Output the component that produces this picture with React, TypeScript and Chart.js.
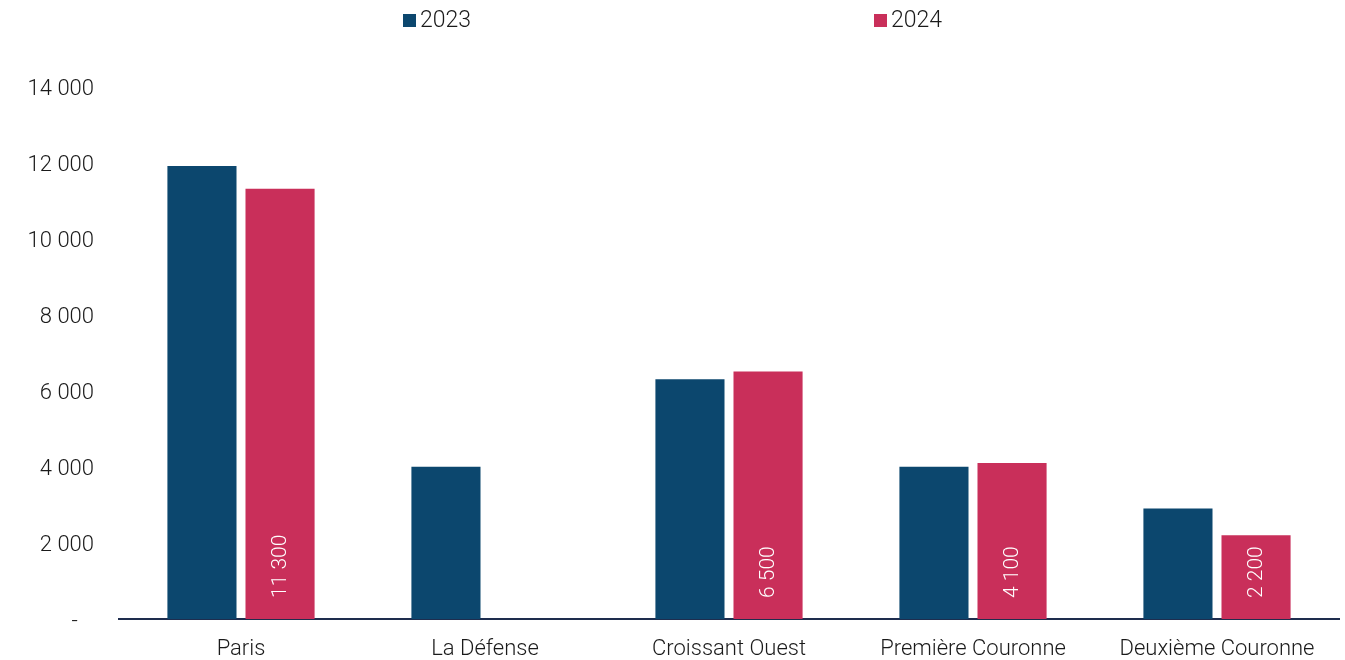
import React, { useEffect, useRef } from "react";
import { Chart, registerables } from "chart.js";

Chart.register(...registerables);

const categories = ["Paris", "La Défense", "Croissant Ouest", "Première Couronne", "Deuxième Couronne"];
const values2023 = [11900, 4000, 6300, 4000, 2900];
const values2024: (number | null)[] = [11300, null, 6500, 4100, 2200];
const seriesLabels = ["2023", "2024"];
const colors = ["#0C476E", "#C92F5A"];
const yTicks = [0, 2000, 4000, 6000, 8000, 10000, 12000, 14000];

const FONT = "Roboto, 'Liberation Sans', sans-serif";

function fmt(v: number): string {
  if (v === 0) return "-   ";
  return String(v).replace(/\B(?=(\d{3})+(?!\d))/g, " ");
}

const legendPlugin = {
  id: "spreadLegend",
  afterDraw(chart: any) {
    const ctx = chart.ctx;
    const xs = [403, 874];
    ctx.save();
    ctx.font = `300 23px ${FONT}`;
    ctx.textBaseline = "middle";
    ctx.textAlign = "left";
    chart.data.datasets.forEach((ds: any, i: number) => {
      ctx.fillStyle = ds.backgroundColor;
      ctx.fillRect(xs[i], 14, 13, 13);
      ctx.fillStyle = "#1a1a1a";
      ctx.fillText(ds.label, xs[i] + 17, 21);
    });
    ctx.restore();
  },
};

const barLabelPlugin = {
  id: "barLabels",
  afterDatasetsDraw(chart: any) {
    const ctx = chart.ctx;
    const meta = chart.getDatasetMeta(1);
    const ds = chart.data.datasets[1];
    ctx.save();
    ctx.font = `300 21px ${FONT}`;
    ctx.fillStyle = "#ffffff";
    ctx.textAlign = "left";
    ctx.textBaseline = "middle";
    meta.data.forEach((bar: any, i: number) => {
      const v = ds.data[i];
      if (v == null) return;
      ctx.save();
      ctx.translate(bar.x + 1, bar.base - 21);
      ctx.rotate(-Math.PI / 2);
      ctx.fillText(fmt(v), 0, 0);
      ctx.restore();
    });
    ctx.restore();
  },
};

export default function App() {
  const ref = useRef<HTMLCanvasElement | null>(null);
  useEffect(() => {
    document.body.style.margin = "0";
    if (!ref.current) return;
    const chart = new Chart(ref.current, {
      type: "bar",
      data: {
        labels: categories,
        datasets: [
          { label: seriesLabels[0], data: values2023, backgroundColor: colors[0] },
          { label: seriesLabels[1], data: values2024, backgroundColor: colors[1] },
        ],
      },
      options: {
        animation: false,
        responsive: false,
        maintainAspectRatio: false,
        layout: { padding: { top: 86, right: 6, bottom: 0, left: 0 } },
        datasets: { bar: { categoryPercentage: 0.64, barPercentage: 0.885 } },
        plugins: { legend: { display: false }, tooltip: { enabled: false } },
        scales: {
          x: {
            grid: { display: false, drawTicks: false },
            border: { display: true, color: "#1E2D4E", width: 2 },
            ticks: { color: "#1a1a1a", font: { family: FONT, size: 22, weight: "300" }, padding: 17, maxRotation: 0 },
            afterFit(scale: any) { scale.height = 41; },
          },
          y: {
            min: 0,
            max: 14000,
            afterBuildTicks(scale: any) { scale.ticks = yTicks.map((v) => ({ value: v })); },
            grid: { display: false, drawTicks: false },
            border: { display: false },
            ticks: {
              color: "#1a1a1a",
              font: { family: FONT, size: 22, weight: "300" },
              padding: 25,
              labelOffset: 3,
              callback: (v: any) => fmt(Number(v)),
            },
            afterFit(scale: any) { scale.width = 119; },
          },
        },
      },
      plugins: [legendPlugin, barLabelPlugin],
    });
    return () => chart.destroy();
  }, []);
  return (
    <div style={{ position: "absolute", left: 0, top: 0, width: 1345, height: 660 }}>
      <canvas ref={ref} width={1345} height={660} />
    </div>
  );
}
